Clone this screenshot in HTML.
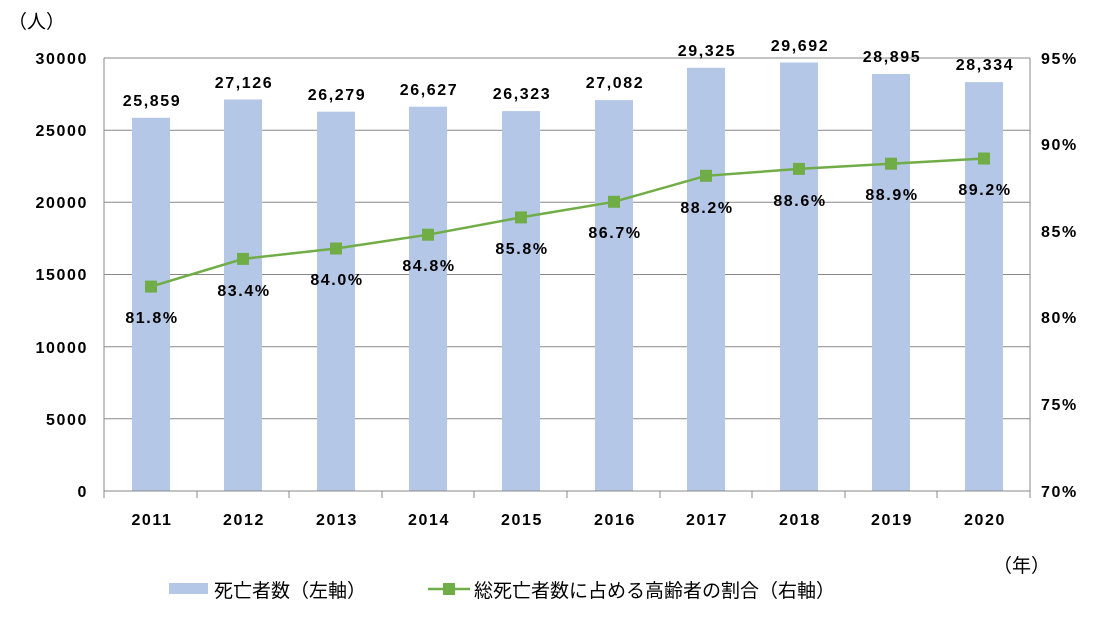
<!DOCTYPE html><html><head><meta charset="utf-8"><style>body{margin:0;background:#fff}svg{display:block}text{font-family:"Liberation Sans","Noto Sans CJK JP",sans-serif;font-weight:bold;fill:#000}.n{letter-spacing:1.6px}</style></head><body>
<svg width="1100" height="618" xmlns="http://www.w3.org/2000/svg">
<g stroke="#898989" stroke-width="1">
<line x1="104" y1="58" x2="1030" y2="58"/><line x1="104" y1="130.2" x2="1030" y2="130.2"/><line x1="104" y1="202.3" x2="1030" y2="202.3"/><line x1="104" y1="274.5" x2="1030" y2="274.5"/><line x1="104" y1="346.7" x2="1030" y2="346.7"/><line x1="104" y1="418.8" x2="1030" y2="418.8"/>
<line x1="104" y1="58" x2="104" y2="491"/><line x1="1030" y1="58" x2="1030" y2="491"/>
</g>
<g fill="#b4c7e7">
<rect x="132" y="117.8" width="38" height="373.2"/><rect x="224" y="99.5" width="38" height="391.5"/><rect x="317" y="111.7" width="38" height="379.3"/><rect x="409" y="106.7" width="38" height="384.3"/><rect x="502" y="111.1" width="38" height="379.9"/><rect x="595" y="100.1" width="38" height="390.9"/><rect x="687" y="67.8" width="38" height="423.2"/><rect x="780" y="62.5" width="38" height="428.5"/><rect x="872" y="74" width="38" height="417"/><rect x="965" y="82.1" width="38" height="408.9"/>
</g>
<g stroke="#898989"><line x1="104" y1="491" x2="1030" y2="491"/>
<line x1="104" y1="491" x2="104" y2="498"/><line x1="197" y1="491" x2="197" y2="498"/><line x1="289" y1="491" x2="289" y2="498"/><line x1="382" y1="491" x2="382" y2="498"/><line x1="474" y1="491" x2="474" y2="498"/><line x1="567" y1="491" x2="567" y2="498"/><line x1="660" y1="491" x2="660" y2="498"/><line x1="752" y1="491" x2="752" y2="498"/><line x1="845" y1="491" x2="845" y2="498"/><line x1="937" y1="491" x2="937" y2="498"/><line x1="1030" y1="491" x2="1030" y2="498"/></g>
<polyline fill="none" stroke="#70ad47" stroke-width="2.5" points="151,286.6 243,258.9 336,248.5 428,234.7 521,217.4 614,201.8 706,175.8 799,168.9 891,163.7 984,158.5"/>
<g fill="#70ad47"><rect x="145" y="280.6" width="12" height="12"/><rect x="237" y="252.9" width="12" height="12"/><rect x="330" y="242.5" width="12" height="12"/><rect x="422" y="228.7" width="12" height="12"/><rect x="515" y="211.4" width="12" height="12"/><rect x="608" y="195.8" width="12" height="12"/><rect x="700" y="169.8" width="12" height="12"/><rect x="793" y="162.9" width="12" height="12"/><rect x="885" y="157.7" width="12" height="12"/><rect x="978" y="152.5" width="12" height="12"/></g>
<g font-size="16" text-anchor="middle" class="n">
<text x="152" y="106">25,859</text><text x="244" y="88">27,126</text><text x="337" y="100">26,279</text><text x="429" y="95">26,627</text><text x="522" y="99">26,323</text><text x="615" y="88">27,082</text><text x="707" y="56">29,325</text><text x="800" y="51">29,692</text><text x="892" y="62">28,895</text><text x="985" y="70">28,334</text>
<text x="152" y="323">81.8%</text><text x="244" y="296">83.4%</text><text x="337" y="285">84.0%</text><text x="429" y="271">84.8%</text><text x="522" y="254">85.8%</text><text x="615" y="238">86.7%</text><text x="707" y="213">88.2%</text><text x="800" y="206">88.6%</text><text x="892" y="200">88.9%</text><text x="985" y="195">89.2%</text>
<text x="152" y="525">2011</text><text x="244" y="525">2012</text><text x="337" y="525">2013</text><text x="429" y="525">2014</text><text x="522" y="525">2015</text><text x="615" y="525">2016</text><text x="707" y="525">2017</text><text x="800" y="525">2018</text><text x="892" y="525">2019</text><text x="985" y="525">2020</text>
</g>
<g font-size="16" text-anchor="end" class="n">
<text x="88" y="64">30000</text><text x="88" y="136">25000</text><text x="88" y="208">20000</text><text x="88" y="280">15000</text><text x="88" y="353">10000</text><text x="88" y="425">5000</text><text x="88" y="497">0</text>
</g>
<g font-size="16" class="n">
<text x="1041" y="64">95%</text><text x="1041" y="150">90%</text><text x="1041" y="237">85%</text><text x="1041" y="323">80%</text><text x="1041" y="410">75%</text><text x="1041" y="497">70%</text>
</g>
<text x="8" y="28" font-size="19" style="font-weight:normal">（人）</text>
<text x="993" y="572" font-size="19" style="font-weight:normal">（年）</text>
<rect x="169" y="583" width="39" height="11" fill="#b4c7e7"/>
<text x="214" y="597" font-size="19" style="font-weight:normal">死亡者数（左軸）</text>
<line x1="428" y1="589" x2="470" y2="589" stroke="#70ad47" stroke-width="2.5"/><rect x="443" y="583" width="12" height="12" fill="#70ad47"/>
<text x="474" y="597" font-size="19" style="font-weight:normal">総死亡者数に占める高齢者の割合（右軸）</text>
</svg></body></html>
